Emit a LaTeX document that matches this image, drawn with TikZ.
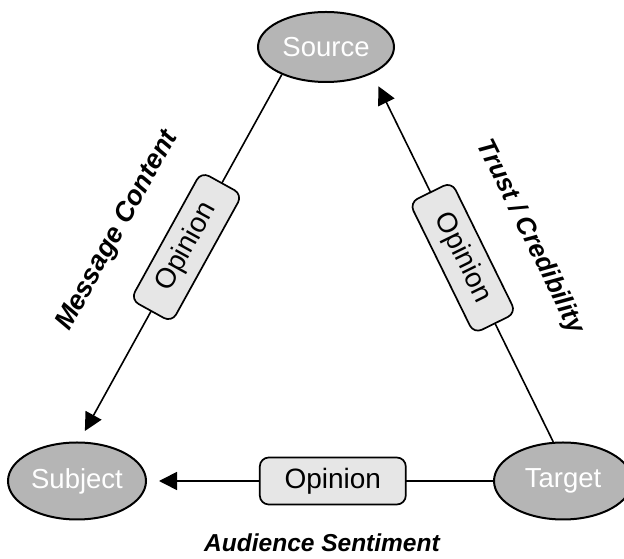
\documentclass[tikz,border=0pt]{standalone}
\usepackage{fontspec}
\setmainfont{Liberation Sans}
\usetikzlibrary{arrows.meta,shapes.geometric}
\definecolor{ellgray}{HTML}{B5B5B5}
\definecolor{boxgray}{HTML}{E6E6E6}
\begin{document}
\begin{tikzpicture}[x=1pt,y=1pt,
  ell/.style={ellipse, draw=black, line width=2pt, fill=ellgray, inner sep=0pt,
    text=white, font=\fontsize{27.5}{27.5}\selectfont},
  opbox/.style={rectangle, rounded corners=9pt, draw=black, line width=1.7pt, fill=boxgray,
    minimum width=146pt, minimum height=47pt, inner sep=0pt, font=\fontsize{28}{28}\selectfont},
  conn/.style={line width=1.6pt},
  arr/.style={conn, -{Triangle[length=18pt,width=18pt]}},
  lab/.style={font=\bfseries\itshape\fontsize{26}{26}\selectfont}]
\useasboundingbox (0,0) rectangle (624,559);
\node[ell, minimum width=136pt, minimum height=70pt] (src) at (326,512) {Source};
\node[ell, minimum width=138pt, minimum height=77pt] (sub) at (77,78) {Subject};
\node[ell, minimum width=138pt, minimum height=77pt] (tgt) at (563,78) {Target};
\draw[arr, shorten >=12pt] (src.212) -- node[opbox, sloped, pos=0.47] (op1) {Opinion} (sub.87);
\draw[arr, shorten >=14pt] (tgt.104) -- node[opbox, sloped, pos=0.5] (op2) {Opinion} (src.330);
\draw[arr, shorten >=12pt] (tgt.west) -- node[opbox, pos=0.463] (op3) {Opinion} (sub.east);
\node[lab, font=\bfseries\itshape\fontsize{27}{27}\selectfont, rotate=61] (l1) at (117.5,328) {Message Content};
\node[lab, rotate=-63.7] (l2) at (530,322) {Trust / Credibility};
\node[lab, font=\bfseries\itshape\fontsize{24.5}{24.5}\selectfont] (l3) at (322,16) {Audience Sentiment};
\end{tikzpicture}
\end{document}
